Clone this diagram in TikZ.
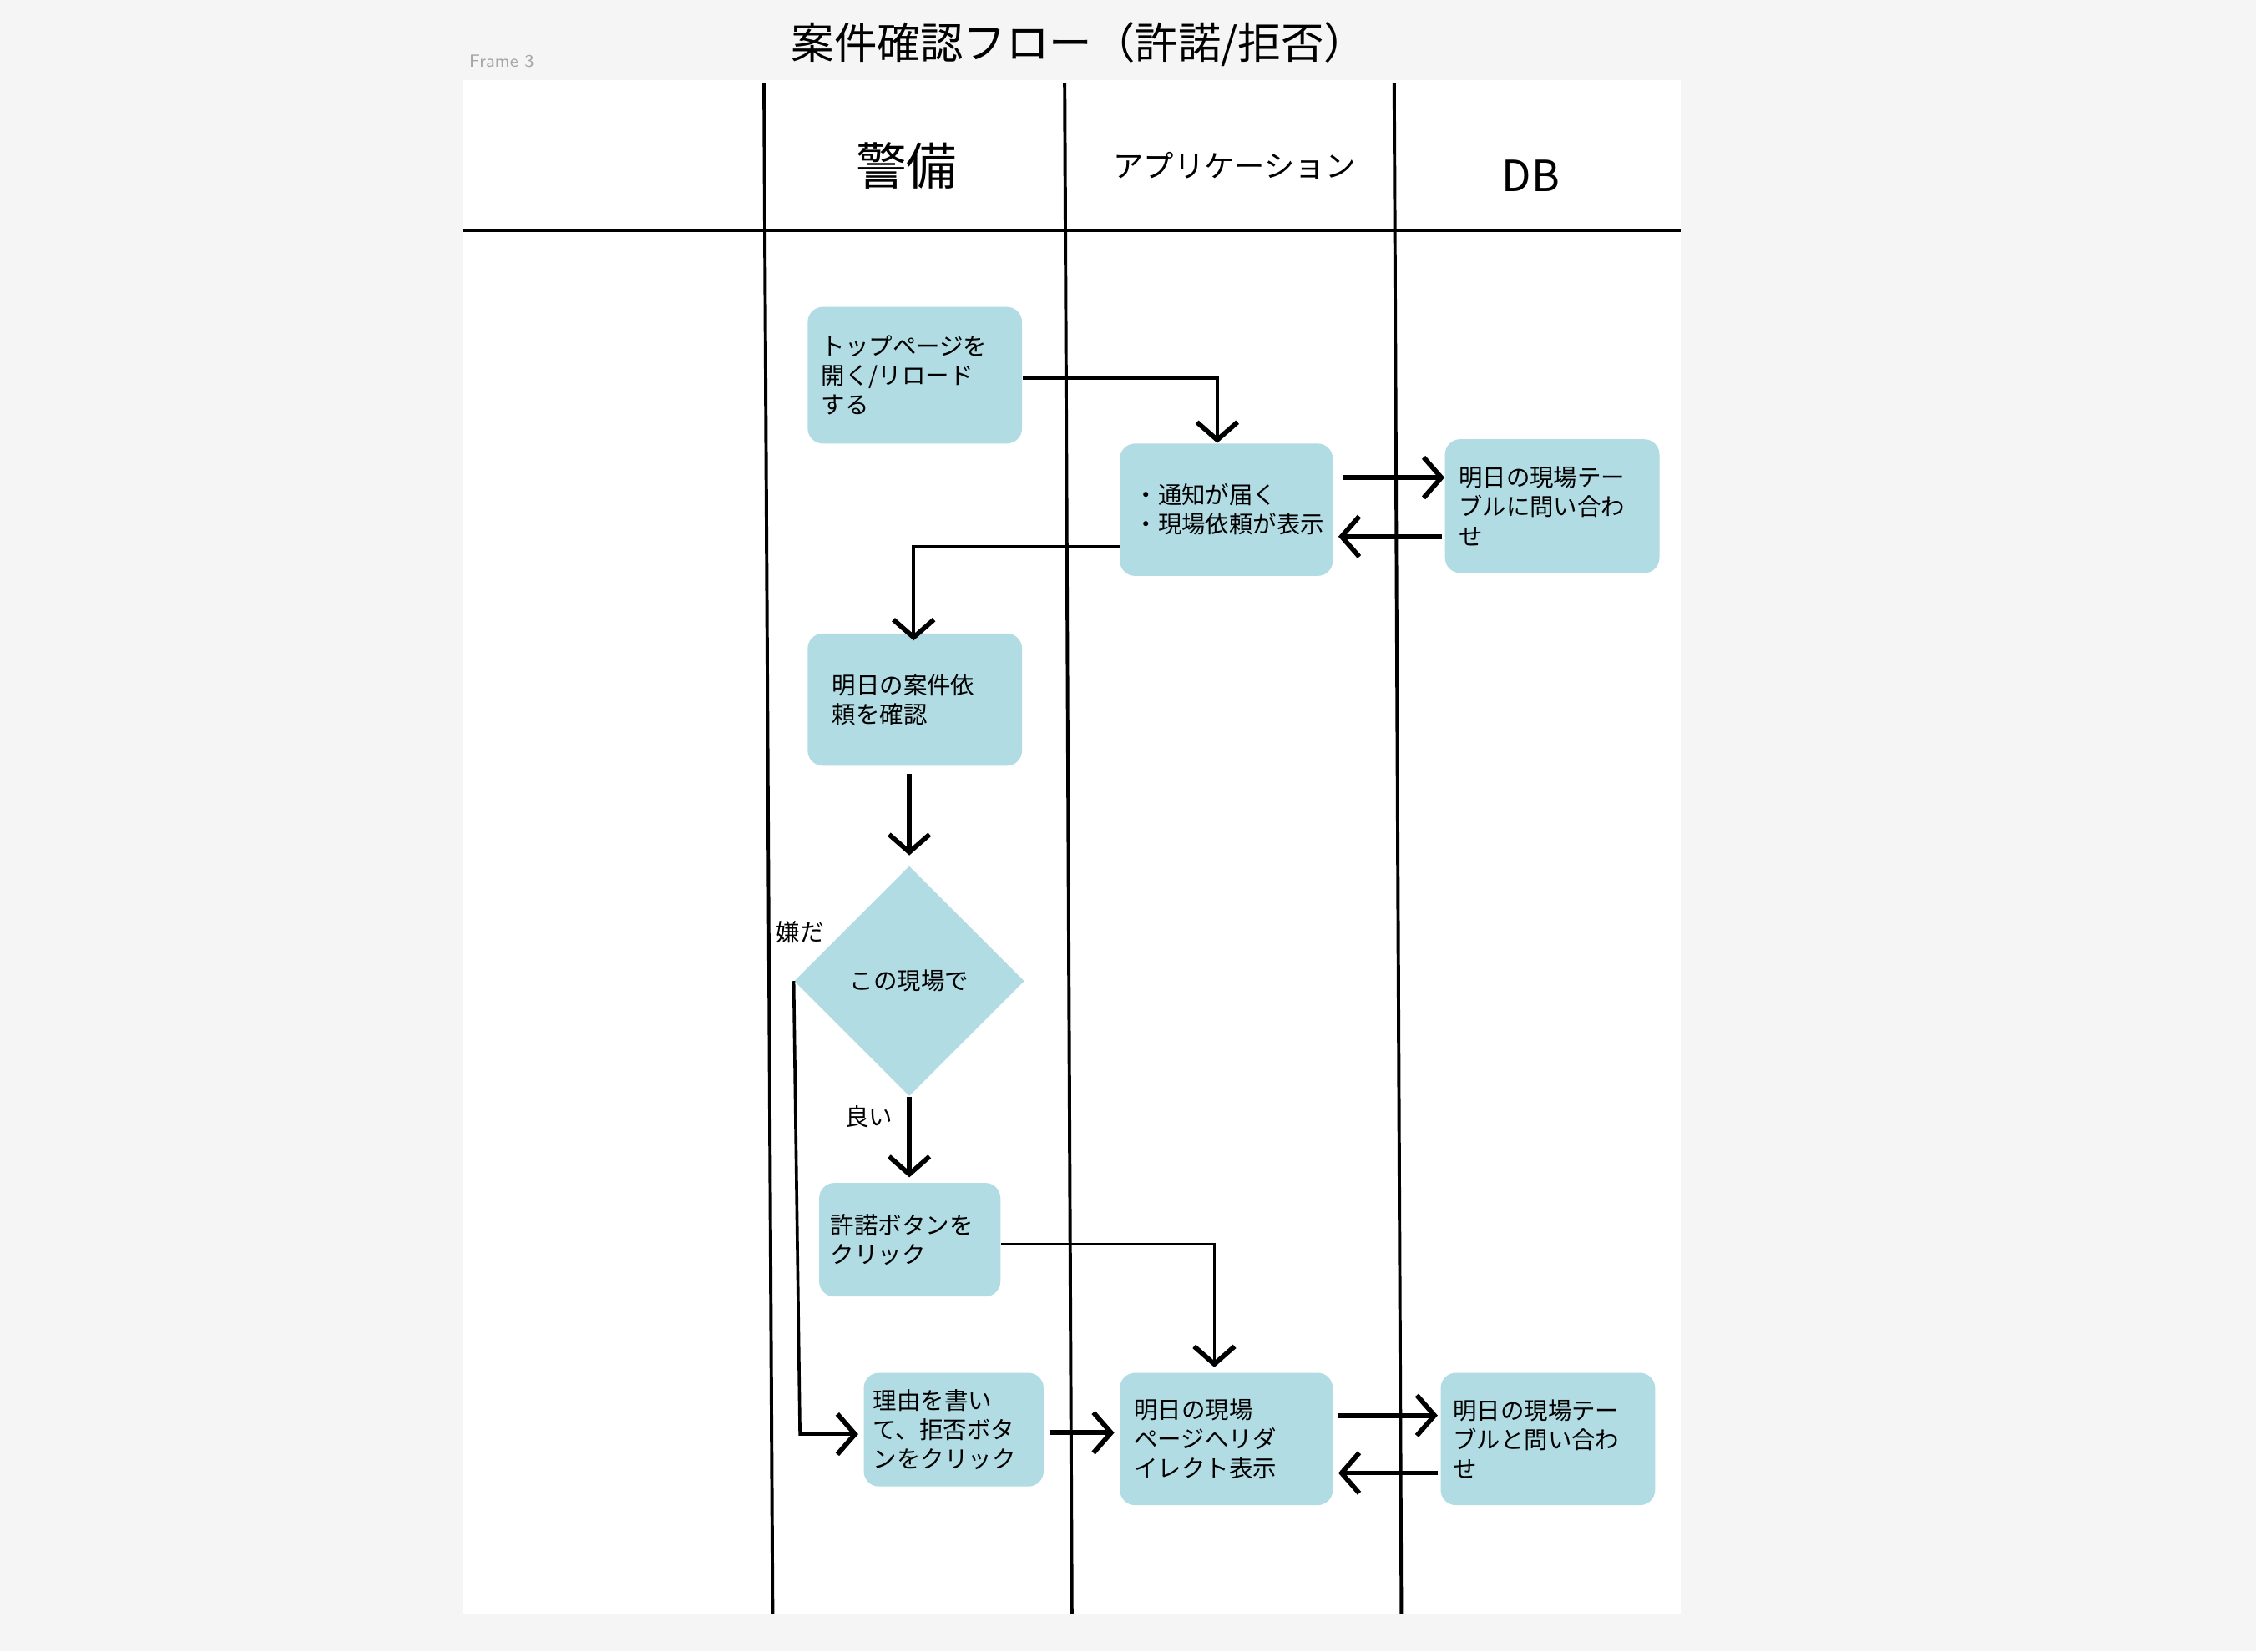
\documentclass[tikz,border=0pt]{standalone}
\usepackage{fontspec}
\setmainfont{Noto Sans CJK JP}
\usetikzlibrary{arrows.meta,shapes.geometric}
\definecolor{boxc}{HTML}{B1DCE4}
\definecolor{bg}{HTML}{F5F5F5}
\tikzset{
 box/.style={fill=boxc,rounded corners=6pt,draw=none,anchor=north west,inner sep=0pt,font=\fontsize{9.4}{11.6}\selectfont,align=left},
 lane/.style={line width=1.3pt},
 big/.style={line width=1.9pt,-{Straight Barb[length=7pt,width=16pt,line width=1.9pt]}},
 con/.style={line width=1.2pt,-{Straight Barb[length=7pt,width=16pt,line width=1.9pt]}},
 lbl/.style={font=\fontsize{9.4}{11}\selectfont}
}
\begin{document}
\begin{tikzpicture}[x=0.02cm,y=-0.02cm]
\useasboundingbox (0,0) rectangle (1568,1148);
\fill[bg] (0,0) rectangle (1568,1148);
\fill[white] (322,56) rectangle (1168,1122);
\node[anchor=south west,text=gray!70,font=\fontsize{7}{8}\selectfont\sffamily] (fr) at (320,53) {Frame 3};
\node[font=\fontsize{17}{20}\selectfont] (title) at (750,31) {案件確認フロー（許諾/拒否）};
\draw[lane] (322,160) -- (1168,160);
\draw[lane] (531,58) -- (537,1122);
\draw[lane] (740,58) -- (745,1122);
\draw[lane] (969,58) -- (974,1122);
\node[font=\fontsize{20}{24}\selectfont] (h1) at (630,115) {警備};
\node[font=\fontsize{12}{14}\selectfont] (h2) at (858,115) {アプリケーション};
\node[font=\fontsize{17}{20}\selectfont] (h3) at (1064,122) {DB};

\node[box,minimum width=149*0.02cm,minimum height=95*0.02cm,text width=130*0.02cm] (A) at (561,213) {トップページを\\開く/リロード\\する};
\node[box,minimum width=148*0.02cm,minimum height=92*0.02cm,text width=142*0.02cm] (B) at (778,308) {\hspace*{4pt}・通知が届く\\\hspace*{4pt}・現場依頼が表示};
\node[box,minimum width=149*0.02cm,minimum height=93*0.02cm,text width=130*0.02cm] (C) at (1004,305) {明日の現場テー\\ブルに問い合わ\\せ};
\node[box,minimum width=149*0.02cm,minimum height=92*0.02cm,text width=115*0.02cm] (D) at (561,440) {明日の案件依\\頼を確認\\[8pt]};
\node[diamond,fill=boxc,minimum width=160*0.02cm,minimum height=160*0.02cm,inner sep=0pt,lbl] (Q) at (632,682) {この現場で};
\node[box,minimum width=126*0.02cm,minimum height=79*0.02cm,text width=110*0.02cm] (E) at (569,822) {許諾ボタンを\\クリック};
\node[box,minimum width=125*0.02cm,minimum height=79*0.02cm,text width=112*0.02cm] (F) at (600,954) {理由を書い\\て、拒否ボタ\\ンをクリック};
\node[box,minimum width=148*0.02cm,minimum height=92*0.02cm,text width=128*0.02cm] (G) at (778,954) {明日の現場\\ページへリダ\\イレクト表示\\[4pt]};
\node[box,minimum width=149*0.02cm,minimum height=92*0.02cm,text width=132*0.02cm] (H) at (1001,954) {明日の現場テー\\ブルと問い合わ\\せ\\[4pt]};

\coordinate (a1) at (846,263);
\draw[con] (A.east |- a1) -- (a1) -- (B.north -| a1);
\draw[big] ([xshift=4pt]B.east |- 0,332) -- (C.west |- 0,332);
\draw[big] ([xshift=-1pt]C.west |- 0,373) -- ([xshift=2pt]B.east |- 0,373);
\coordinate (b1) at (635,380);
\draw[con] (B.west |- b1) -- (b1) -- ([yshift=-3pt]D.north -| b1);
\draw[big] ([yshift=-3pt]D.south -| 632,0) -- ([yshift=4pt]Q.north);
\draw[big] (Q.south) -- ([yshift=2pt]E.north -| 632,0);
\node[lbl] (ok) at (604,776) {良い};
\coordinate (e1) at (844,865);
\draw[con] (E.east |- e1) -- (e1) -- ([yshift=2pt]G.north -| e1);
\coordinate (q1) at (556,997);
\draw[con] (Q.west) -- (q1) -- ([xshift=-2pt]F.west |- q1);
\node[lbl] (ng) at (556,648) {嫌だ};
\draw[big] ([xshift=2pt]F.east |- 0,996) -- ([xshift=-2pt]G.west |- 0,996);
\draw[big] ([xshift=2pt]G.east |- 0,984) -- ([xshift=-1pt]H.west |- 0,984);
\draw[big] ([xshift=-1pt]H.west |- 0,1024) -- ([xshift=2pt]G.east |- 0,1024);
\end{tikzpicture}
\end{document}
